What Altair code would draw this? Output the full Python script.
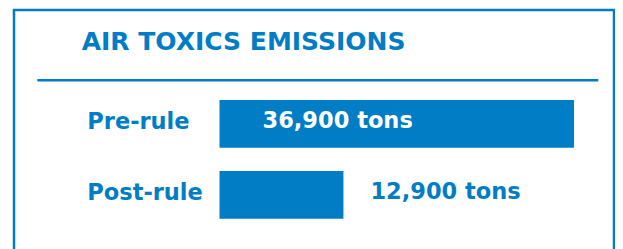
import altair as alt
import pandas as pd

# ---- data ----
title_text = ["AIR TOXICS EMISSIONS"]
categories = ["Pre-rule", "Post-rule"]
tons = [36900, 12900]
value_labels = ["36,900 tons", "12,900 tons"]

BLUE = "#007DC5"
FONT = "DejaVu Sans"

df = pd.DataFrame({"category": categories, "tons": tons, "label": value_labels})

x_scale = alt.Scale(domain=[0, 40000], range=[205.5, 589.8])
y_scale = alt.Scale(domain=categories, range=[90, 208.7], paddingInner=0.328, paddingOuter=0)

X = alt.X("tons:Q", scale=x_scale, axis=None)
Y = alt.Y("category:N", scale=y_scale, axis=None, sort=categories)

bars = alt.Chart(df).mark_bar(color=BLUE).encode(x=X, y=Y)

cat_labels = alt.Chart(df).mark_text(
    align="left", baseline="middle", dy=-1.5, font=FONT, fontWeight="bold",
    fontSize=22.5, color=BLUE
).encode(x=alt.value(73.3), y=Y, text="category:N")

inside = alt.Chart(df).transform_filter(alt.datum.category == "Pre-rule").transform_calculate(
    start="0"
).mark_text(
    align="left", baseline="middle", dx=43, dy=-2.5, font=FONT, fontWeight="bold",
    fontSize=22.5, color="white"
).encode(x=alt.X("start:Q", scale=x_scale, axis=None), y=Y, text="label:N")

outside = alt.Chart(df).transform_filter(alt.datum.category == "Post-rule").mark_text(
    align="left", baseline="middle", dx=27, dy=-2.5, font=FONT, fontWeight="bold",
    fontSize=22.5, color=BLUE
).encode(x=X, y=Y, text="label:N")

title = alt.Chart(pd.DataFrame({"t": title_text})).mark_text(
    align="left", baseline="alphabetic", font=FONT, fontWeight="bold",
    fontSize=25, color=BLUE
).encode(x=alt.value(67.7), y=alt.value(40), text="t:N")

sep = alt.Chart(pd.DataFrame({"k": [0]})).mark_rule(color=BLUE, strokeWidth=2.5).encode(
    x=alt.value(23.3), x2=alt.value(584.3), y=alt.value(70.3)
)

chart = alt.layer(bars, cat_labels, inside, outside, title, sep).properties(
    width=600, height=250,
    autosize=alt.AutoSizeParams(type="none"),
    padding={"left": 6, "top": 2, "right": 1, "bottom": 0},
    background="white",
).configure_view(stroke=BLUE, strokeWidth=2.5)

chart.save("out.html", embed_options={"renderer": "svg", "actions": False})
